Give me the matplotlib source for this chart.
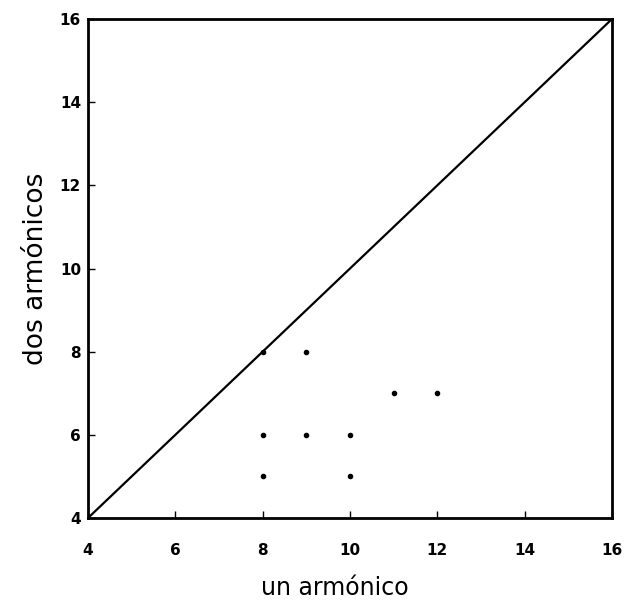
import matplotlib
matplotlib.use("Agg")
import matplotlib.pyplot as plt

x_vals = [8, 9, 8, 9, 10, 8, 10, 11, 12]
y_vals = [8, 8, 6, 6, 6, 5, 5, 7, 7]
diag = [4, 16]
ticks = [4, 6, 8, 10, 12, 14, 16]

fig = plt.figure(figsize=(6.27, 6.01), dpi=100)
ax = fig.add_axes([88/627, 1-518/601, 524/627, 499/601])
ax.plot(diag, diag, color='black', lw=1.6)
ax.scatter(x_vals, y_vals, s=9, color='black', zorder=3)
ax.set_xlim(4, 16)
ax.set_ylim(4, 16)
ax.set_xticks(ticks)
ax.set_yticks(ticks)
ax.set_xticklabels([str(t) for t in ticks], fontsize=11, fontweight='bold')
ax.set_yticklabels([str(t) for t in ticks], fontsize=11, fontweight='bold')
ax.tick_params(axis='x', direction='in', length=5, width=1, pad=18, top=False)
ax.tick_params(axis='y', direction='in', length=5, width=1, pad=5, right=False)
for s in ax.spines.values():
    s.set_linewidth(2)
ax.set_xlabel('un armónico', fontsize=17, labelpad=13)
ax.set_ylabel('dos armónicos', fontsize=19, labelpad=8)
ax.xaxis.label.set_x(0.471)
fig.savefig('out.png', dpi=100)
